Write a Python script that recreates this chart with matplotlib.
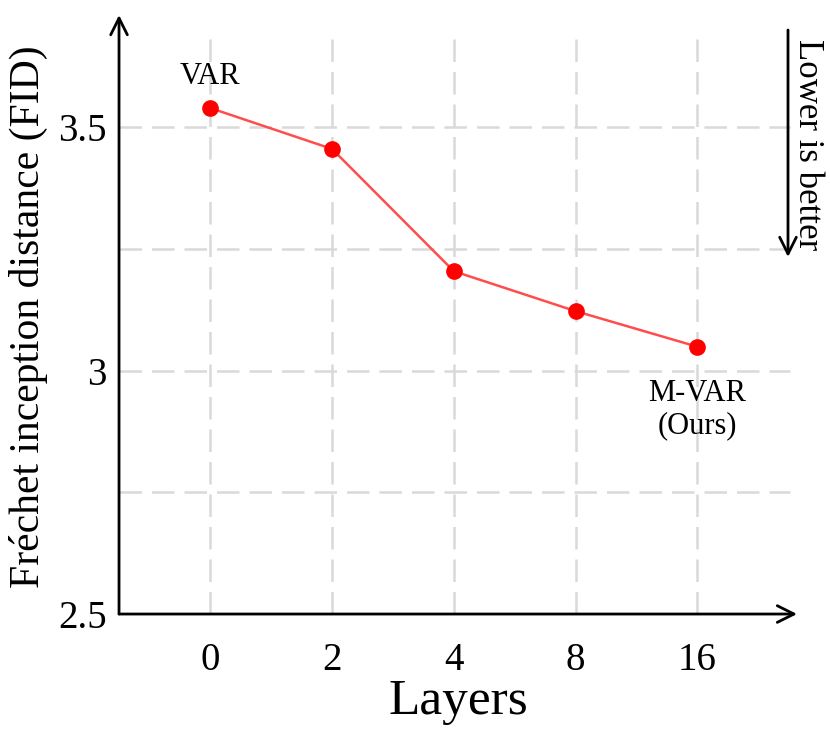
import matplotlib.pyplot as plt
import numpy as np

plt.rcParams['font.family'] = ['Liberation Serif', 'DejaVu Serif']

layers = ['0', '2', '4', '8', '16']
fid = [3.539, 3.455, 3.204, 3.122, 3.049]
yticks = [2.5, 3.0, 3.5]
ytick_labels = ['2.5', '3', '3.5']
hgrid = [2.75, 3.0, 3.25, 3.5]

fig = plt.figure(figsize=(8.3, 7.33), dpi=100)
ax = fig.add_axes([0.1434, 0.1623, 0.8169, 0.8172])
x = np.arange(len(layers))

ax.set_xlim(-0.75, 4.82)
ax.set_ylim(2.5, 3.73)

# dashed grid
for xi in x:
    ax.plot([xi, xi], [2.5, 3.68], color='#d9d9d9', lw=1.8, dashes=(9, 4), zorder=1)
for yi in hgrid:
    ax.plot([-0.75, 4.76], [yi, yi], color='#d9d9d9', lw=1.8, dashes=(9, 4), zorder=1)

ax.plot(x, fid, color='#ff4d4d', lw=1.8, zorder=3)
ax.plot(x, fid, 'o', color='#ff0000', ms=11, zorder=4)

ax.text(x[0], fid[0] + 0.065, 'VAR', ha='center', va='center', fontsize=22)
ax.text(x[-1], fid[-1] - 0.13, 'M-VAR\n(Ours)', ha='center', va='center',
        fontsize=22, linespacing=1.15)

for s in ax.spines.values():
    s.set_visible(False)

# axis arrows
ax.annotate('', xy=(1, 0), xytext=(0, 0), xycoords='axes fraction',
            arrowprops=dict(arrowstyle='->', lw=2, color='black',
                            mutation_scale=30, shrinkA=0, shrinkB=0))
ax.annotate('', xy=(0, 1), xytext=(0, 0), xycoords='axes fraction',
            arrowprops=dict(arrowstyle='->', lw=2, color='black',
                            mutation_scale=30, shrinkA=0, shrinkB=0))

ax.set_xticks(x)
ax.set_xticklabels(layers, fontsize=28)
ax.set_yticks(yticks)
ax.set_yticklabels(ytick_labels, fontsize=28)
ax.tick_params(axis='x', length=0, pad=20)
ax.tick_params(axis='y', length=0, pad=9)

ax.set_xlabel('Layers', fontsize=37, labelpad=0)
fig.text(28 / 830, 1 - 317 / 733, 'Fréchet inception distance (FID)', rotation=90,
         ha='center', va='center', fontsize=30)

# "Lower is better" arrow
ax.annotate('', xy=(788 / 830, 1 - 257 / 733), xytext=(788 / 830, 1 - 30 / 733),
            xycoords='figure fraction', annotation_clip=False,
            arrowprops=dict(arrowstyle='->', lw=2, color='black',
                            mutation_scale=30, shrinkA=0, shrinkB=0))
fig.text(807 / 830, 1 - 145 / 733, 'Lower is better', rotation=-90,
         ha='center', va='center', fontsize=25)

fig.savefig('out.png', dpi=100)
